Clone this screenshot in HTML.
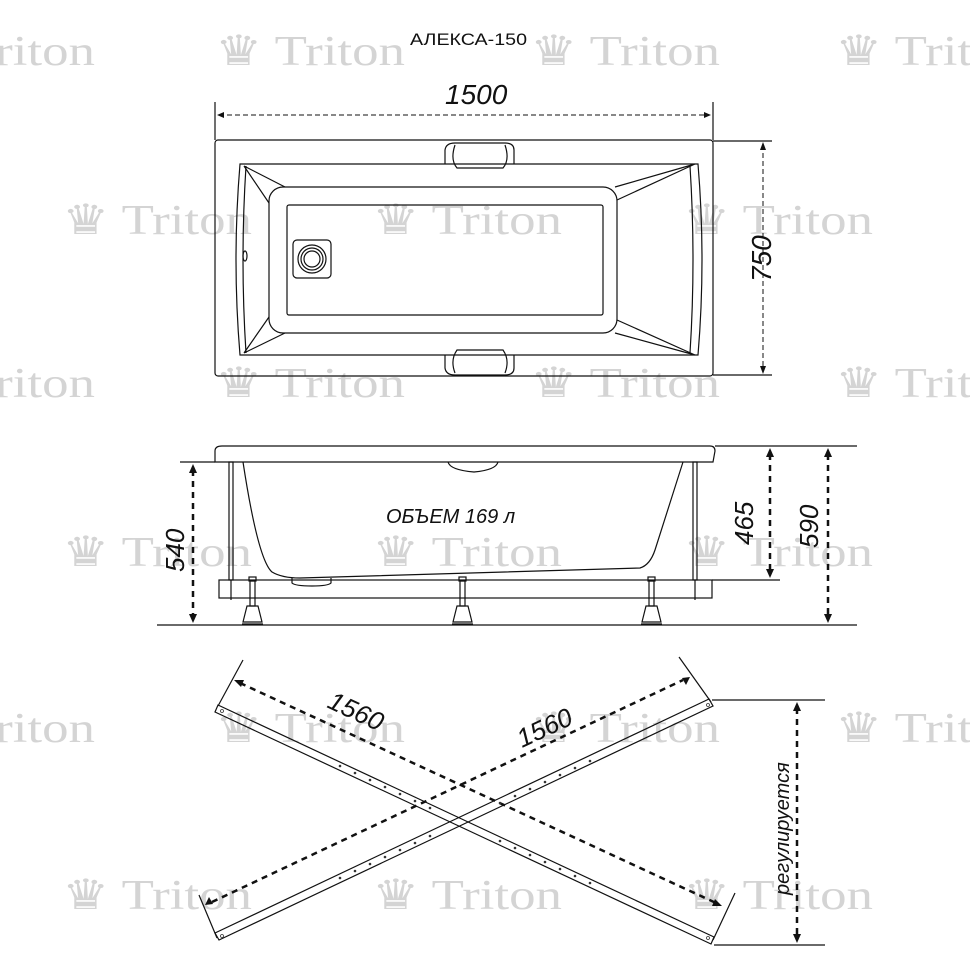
<!DOCTYPE html>
<html><head><meta charset="utf-8"><style>
html,body{margin:0;padding:0;background:#fff}
svg{display:block}
.wm{font-family:"Liberation Serif",serif;font-size:42px;fill:#d4d4d4}
.d{font-family:"Liberation Sans",sans-serif;font-style:italic;fill:#111}
</style></head><body>
<svg width="970" height="970" viewBox="0 0 970 970" xmlns="http://www.w3.org/2000/svg">
<!-- watermarks -->
<g class="wm">
<text x="-95" y="65" textLength="190" lengthAdjust="spacingAndGlyphs">♛ Triton</text><text x="215" y="65" textLength="190" lengthAdjust="spacingAndGlyphs">♛ Triton</text><text x="530" y="65" textLength="190" lengthAdjust="spacingAndGlyphs">♛ Triton</text><text x="835" y="65" textLength="190" lengthAdjust="spacingAndGlyphs">♛ Triton</text>
<text x="62" y="234" textLength="190" lengthAdjust="spacingAndGlyphs">♛ Triton</text><text x="372" y="234" textLength="190" lengthAdjust="spacingAndGlyphs">♛ Triton</text><text x="683" y="234" textLength="190" lengthAdjust="spacingAndGlyphs">♛ Triton</text>
<text x="-95" y="397" textLength="190" lengthAdjust="spacingAndGlyphs">♛ Triton</text><text x="215" y="397" textLength="190" lengthAdjust="spacingAndGlyphs">♛ Triton</text><text x="530" y="397" textLength="190" lengthAdjust="spacingAndGlyphs">♛ Triton</text><text x="835" y="397" textLength="190" lengthAdjust="spacingAndGlyphs">♛ Triton</text>
<text x="62" y="566" textLength="190" lengthAdjust="spacingAndGlyphs">♛ Triton</text><text x="372" y="566" textLength="190" lengthAdjust="spacingAndGlyphs">♛ Triton</text><text x="683" y="566" textLength="190" lengthAdjust="spacingAndGlyphs">♛ Triton</text>
<text x="-95" y="742" textLength="190" lengthAdjust="spacingAndGlyphs">♛ Triton</text><text x="215" y="742" textLength="190" lengthAdjust="spacingAndGlyphs">♛ Triton</text><text x="530" y="742" textLength="190" lengthAdjust="spacingAndGlyphs">♛ Triton</text><text x="835" y="742" textLength="190" lengthAdjust="spacingAndGlyphs">♛ Triton</text>
<text x="62" y="909" textLength="190" lengthAdjust="spacingAndGlyphs">♛ Triton</text><text x="372" y="909" textLength="190" lengthAdjust="spacingAndGlyphs">♛ Triton</text><text x="683" y="909" textLength="190" lengthAdjust="spacingAndGlyphs">♛ Triton</text>
</g>
<text x="410" y="45" font-family="Liberation Sans,sans-serif" font-size="17" fill="#111" textLength="117" lengthAdjust="spacingAndGlyphs">АЛЕКСА-150</text>

<g fill="none" stroke="#111" stroke-width="1.2">
<!-- top view -->
<line x1="215" y1="102" x2="215" y2="140"/><line x1="713" y1="102" x2="713" y2="140"/>
<line x1="219" y1="115" x2="709" y2="115" stroke-dasharray="5,3" stroke-width="1"/>
<rect x="215" y="140" width="498" height="236" rx="3"/>
<line x1="713" y1="141" x2="772" y2="141"/><line x1="713" y1="375" x2="772" y2="375"/>
<line x1="763" y1="145" x2="763" y2="371" stroke-dasharray="5,3" stroke-width="1"/>
<path d="M240 164 L698 164 Q706 260 698 355 L240 355 Q232 260 240 164Z"/>
<path d="M246 166 Q240 260 246 353"/><path d="M690 166 Q696 260 690 353"/>
<rect x="269" y="187" width="348" height="146" rx="14"/>
<rect x="287" y="205" width="316" height="110" rx="2"/>
<path d="M244 166 L285 187 M269 203 L244 166 M244 353 L285 333 M269 317 L244 353 M695 164 L615 187 M617 200 L695 164 M695 355 L615 333 M617 320 L695 355"/>
<rect x="293" y="240" width="38" height="38" rx="4"/>
<circle cx="312" cy="259" r="14"/><circle cx="312" cy="259" r="11"/><circle cx="312" cy="259" r="8"/>
<ellipse cx="245" cy="256" rx="2" ry="5"/>
<path d="M445 164 L445 150 Q446 143 455 143 L505 143 Q514 143 514 150 L514 164 M455 145 Q450 160 457 168 L503 168 Q510 160 505 145"/>
<path d="M445 355 L445 368 Q446 375 455 375 L505 375 Q514 375 514 368 L514 355 M455 373 Q450 360 457 350 L503 350 Q510 360 505 373"/>

<!-- side view -->
<path d="M215 462 L215 451 Q215 446 222 446 L710 446 Q715 446 715 451 L713 462 Z"/>
<line x1="715" y1="446" x2="857" y2="446"/>
<line x1="180" y1="462" x2="215" y2="462"/>
<path d="M243 462 Q258 560 272 572 Q282 578 300 578 L640 568 Q650 565 655 550 L683 462"/>
<path d="M448 462 Q450 470 474 472 Q496 470 498 462"/>
<path d="M292 578 L292 583 Q295 586 312 586 Q328 586 331 583 L331 578"/>
<rect x="219" y="580" width="493" height="18"/>
<line x1="712" y1="580" x2="780" y2="580"/>
<line x1="157" y1="625" x2="857" y2="625"/>
<rect x="229" y="462" width="4" height="118"/><rect x="693" y="462" width="4" height="118"/>
<line x1="231" y1="580" x2="231" y2="600"/><line x1="695" y1="580" x2="695" y2="600"/>
<g>
<rect x="249" y="577" width="7" height="4"/><rect x="250" y="581" width="5" height="25"/><path d="M247 606 L258 606 L262 622 L243 622Z"/><line x1="242" y1="624" x2="263" y2="624"/>
<rect x="459" y="577" width="7" height="4"/><rect x="460" y="581" width="5" height="25"/><path d="M457 606 L468 606 L472 622 L453 622Z"/><line x1="452" y1="624" x2="473" y2="624"/>
<rect x="648" y="577" width="7" height="4"/><rect x="649" y="581" width="5" height="25"/><path d="M646 606 L657 606 L661 622 L642 622Z"/><line x1="641" y1="624" x2="662" y2="624"/>
</g>
<g stroke-width="2.5" stroke-dasharray="6,5">
<line x1="193" y1="470" x2="193" y2="617"/>
<line x1="770" y1="454" x2="770" y2="572"/>
<line x1="828" y1="454" x2="828" y2="617"/>
<line x1="797" y1="708" x2="797" y2="937"/>
<line x1="240" y1="683" x2="716" y2="903"/>
<line x1="212" y1="902" x2="683" y2="680"/>
</g>

<!-- X frame -->
<path d="M218 705 L714 937 L711 944 L215 712 Z"/>
<path d="M215 933 L709 699 L713 706 L219 940 Z"/>
<line x1="218" y1="706" x2="243" y2="660"/><line x1="713" y1="940" x2="735" y2="893"/>
<line x1="217" y1="938" x2="199" y2="895"/><line x1="711" y1="702" x2="679" y2="657"/>
<line x1="712" y1="700" x2="825" y2="700"/><line x1="714" y1="945" x2="825" y2="945"/>
</g>
<g fill="none" stroke="#333" stroke-width="0.8">
<circle cx="222" cy="711" r="1.5"/><circle cx="708" cy="938" r="1.5"/><circle cx="222" cy="936" r="1.5"/><circle cx="708" cy="705" r="1.5"/>
</g>
<g fill="#333">
<circle cx="340" cy="766" r="1.3"/><circle cx="355" cy="773" r="1.3"/><circle cx="370" cy="780" r="1.3"/><circle cx="385" cy="787" r="1.3"/><circle cx="400" cy="794" r="1.3"/><circle cx="415" cy="801" r="1.3"/><circle cx="430" cy="808" r="1.3"/><circle cx="500" cy="841" r="1.3"/><circle cx="515" cy="848" r="1.3"/><circle cx="530" cy="855" r="1.3"/><circle cx="545" cy="862" r="1.3"/><circle cx="560" cy="869" r="1.3"/><circle cx="575" cy="876" r="1.3"/><circle cx="590" cy="883" r="1.3"/>
<circle cx="340" cy="878" r="1.3"/><circle cx="355" cy="871" r="1.3"/><circle cx="370" cy="864" r="1.3"/><circle cx="385" cy="857" r="1.3"/><circle cx="400" cy="850" r="1.3"/><circle cx="415" cy="843" r="1.3"/><circle cx="430" cy="836" r="1.3"/><circle cx="500" cy="803" r="1.3"/><circle cx="515" cy="796" r="1.3"/><circle cx="530" cy="789" r="1.3"/><circle cx="545" cy="782" r="1.3"/><circle cx="560" cy="775" r="1.3"/><circle cx="575" cy="768" r="1.3"/><circle cx="590" cy="761" r="1.3"/>
</g>
<g fill="#111">
<path d="M217 115 l7 -3 v6z"/><path d="M711 115 l-7 -3 v6z"/>
<path d="M763 142 l-3 8 h6z"/><path d="M763 374 l-3 -8 h6z"/>
<path d="M193 464 l-4 9 h8z"/><path d="M193 623 l-4 -9 h8z"/>
<path d="M770 448 l-4 9 h8z"/><path d="M770 578 l-4 -9 h8z"/>
<path d="M828 448 l-4 9 h8z"/><path d="M828 623 l-4 -9 h8z"/>
<path d="M797 702 l-4 9 h8z"/><path d="M797 943 l-4 -9 h8z"/>
<path d="M234 680 l10 0 l-3 7z"/><path d="M722 906 l-10 0 l3 -7z"/>
<path d="M205 905 l4 -8 l4 7z"/><path d="M690 677 l-4 8 l-4 -7z"/>
</g>
<text class="d" x="445" y="104" font-size="28">1500</text>
<text class="d" font-size="28" transform="translate(771,282) rotate(-90)">750</text>
<text class="d" font-size="20" x="386" y="523">ОБЪЕМ 169 л</text>
<text class="d" font-size="26" transform="translate(184,572) rotate(-90)">540</text>
<text class="d" font-size="26" transform="translate(753,545) rotate(-90)">465</text>
<text class="d" font-size="26" transform="translate(818,548) rotate(-90)">590</text>
<text class="d" font-size="26" transform="translate(326,707) rotate(25)">1560</text>
<text class="d" font-size="26" transform="translate(522,748) rotate(-25)">1560</text>
<text class="d" font-size="20" transform="translate(789,895) rotate(-90)">регулируется</text>
</svg>
</body></html>
